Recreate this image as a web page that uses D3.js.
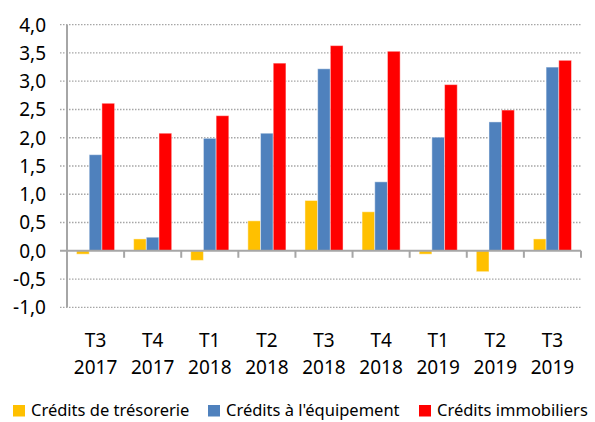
<!DOCTYPE html>
<html><head><meta charset="utf-8">
<script src="https://cdn.jsdelivr.net/npm/d3@7/dist/d3.min.js"></script>
<style>body{margin:0;background:#fff}svg{display:block}</style>
</head><body>
<script>
const quarters = ["T3","T4","T1","T2","T3","T4","T1","T2","T3"];
const years = ["2017","2017","2018","2018","2018","2018","2019","2019","2019"];
const seriesNames = ["Crédits de trésorerie","Crédits à l'équipement","Crédits immobiliers"];
const tresorerie = [-0.06, 0.21, -0.17, 0.53, 0.89, 0.69, -0.06, -0.37, 0.21];
const equipement = [1.70, 0.24, 1.99, 2.08, 3.22, 1.22, 2.01, 2.28, 3.25];
const immobiliers = [2.61, 2.08, 2.39, 3.32, 3.63, 3.53, 2.94, 2.49, 3.37];
const colors = ["#FFC000","#4F81BD","#FF0000"];
const yTicks = [-1,-0.5,0,0.5,1,1.5,2,2.5,3,3.5,4];

(function(){
const W=595,H=422;
const svg=d3.select("body").append("svg").attr("width",W).attr("height",H);
const font="'Noto Sans', sans-serif";
const pL=67,pR=581,pT=24.7,pB=307.3;
const y=d3.scaleLinear().domain([-1,4]).range([pB,pT]);
const idx=d3.range(quarters.length);
const x=d3.scaleBand().domain(idx).range([pL,pR]).padding(0);
const x1=d3.scaleBand().domain([0,1,2]).range([0,x.bandwidth()]).paddingInner(0).paddingOuter(0.75);
const data=[tresorerie,equipement,immobiliers];

svg.append("g").selectAll("line").data(yTicks.filter(d=>d!==0)).join("line")
  .attr("x1",pL-7).attr("x2",pR).attr("y1",d=>y(d)).attr("y2",d=>y(d))
  .attr("stroke","#a6a6a6").attr("stroke-width",1.3).attr("stroke-dasharray","1.5,1.5");

const g=svg.append("g");
data.forEach((arr,s)=>{
  g.selectAll(null).data(arr).join("rect")
   .attr("x",(d,i)=>x(i)+x1(s)).attr("width",x1.bandwidth())
   .attr("y",d=>Math.min(y(d),y(0))).attr("height",d=>Math.abs(y(d)-y(0)))
   .attr("fill",colors[s]).attr("stroke","rgba(255,255,255,0.45)").attr("stroke-width",1);
});

svg.append("line").attr("x1",pL-7).attr("x2",pR).attr("y1",y(0)).attr("y2",y(0))
  .attr("stroke","#a6a6a6").attr("stroke-width",2);
svg.append("g").selectAll("line").data(d3.range(1,quarters.length+1)).join("line")
  .attr("x1",i=>pL+i*x.step()).attr("x2",i=>pL+i*x.step())
  .attr("y1",y(0)).attr("y2",y(0)+7).attr("stroke","#a6a6a6").attr("stroke-width",2);
svg.append("line").attr("x1",pL).attr("x2",pL).attr("y1",pT).attr("y2",pB)
  .attr("stroke","#a6a6a6").attr("stroke-width",2);

svg.append("g").selectAll("text").data(yTicks).join("text")
  .attr("x",pL-21).attr("y",d=>y(d)).attr("dy","0.36em").attr("text-anchor","end")
  .attr("font-family",font).attr("font-size",19).attr("fill","#000")
  .text(d=>d3.format(".1f")(d).replace(".",",").replace("−","-"));

const xl=svg.append("g").attr("font-family",font).attr("font-size",19).attr("text-anchor","middle");
xl.selectAll(".q").data(quarters).join("text").attr("class","q").attr("x",(d,i)=>x(i)+x.bandwidth()/2).attr("y",340).attr("dy","0.36em").text(d=>d);
xl.selectAll(".yr").data(years).join("text").attr("class","yr").attr("x",(d,i)=>x(i)+x.bandwidth()/2).attr("y",367).attr("dy","0.36em").text(d=>d);

const legX=[13,208,419];
const lg=svg.append("g").attr("font-family",font).attr("font-size",16.5);
seriesNames.forEach((n,s)=>{
  lg.append("rect").attr("x",legX[s]).attr("y",405).attr("width",12).attr("height",11.5).attr("fill",colors[s]);
  lg.append("text").attr("x",legX[s]+18).attr("y",410.5).attr("dy","0.36em").text(n);
});
})();
</script>
</body></html>
